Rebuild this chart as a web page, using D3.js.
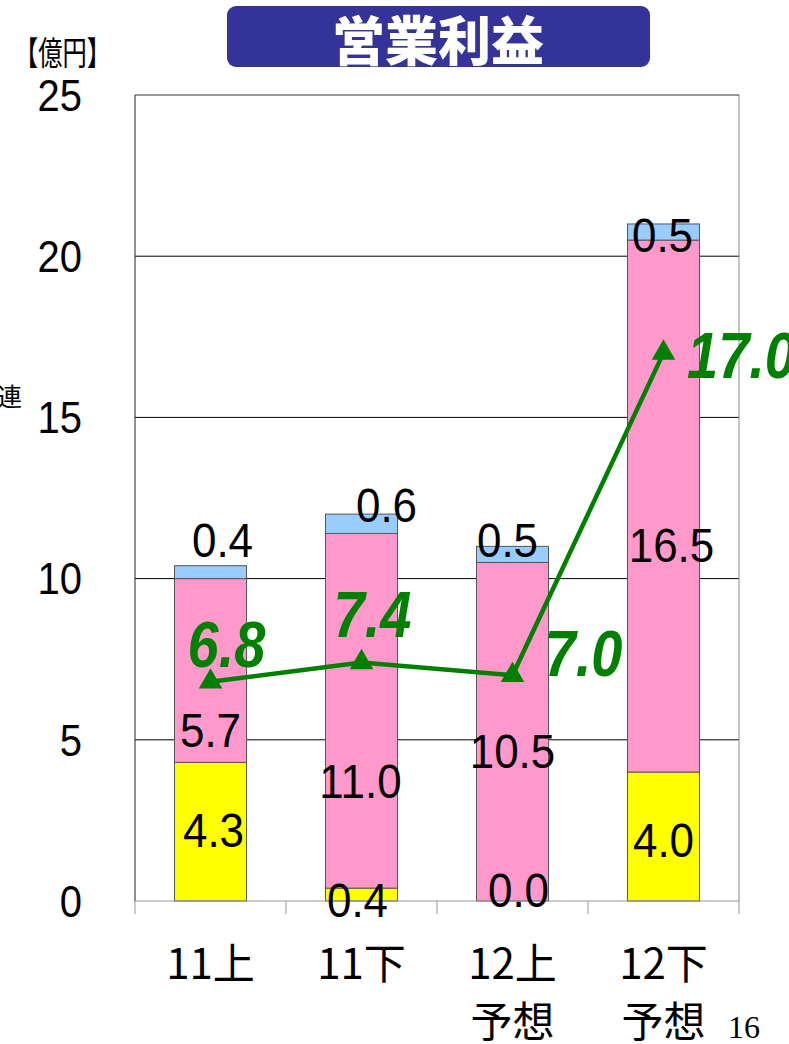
<!DOCTYPE html>
<html>
<head>
<meta charset="utf-8">
<script src="https://cdn.jsdelivr.net/npm/d3@7"></script>
<style>
  body { margin: 0; background: #fff; }
  svg { display: block; }
</style>
</head>
<body>
<script>
// values (億円)
var categories = [["11上"], ["11下"], ["12上", "予想"], ["12下", "予想"]];
var yellowVals = [4.3, 0.4, 0.0, 4.0];
var pinkVals = [5.7, 11.0, 10.5, 16.5];
var blueVals = [0.4, 0.6, 0.5, 0.5];
var lineVals = [6.8, 7.4, 7.0, 17.0];
var yTicks = [0, 5, 10, 15, 20, 25];

// label nudges in px [dx, dy] from the segment centre (the source moved them by hand)
var yellowNudge = [[3, -2], [-4, 5], [6, -11], [0, 3]];
var pinkNudge = [[0, 59], [-1, 70], [0, 19], [8, 38]];
var blueNudge = [[12, -33], [25, -19], [-5, -15], [-1, 2]];
var lineNudge = [[16, -38], [11, -49], [71, -23], [78, 2]];

var settings = {
  width: 789,
  height: 1044,
  left: 135,
  right: 739,
  top: 95,
  bottom: 901
};

var svg = d3.select('body').append('svg')
  .attr('width', settings.width)
  .attr('height', settings.height);

var x = d3.scaleBand()
  .domain(d3.range(categories.length))
  .range([settings.left, settings.right])
  .paddingInner(0.523)
  .paddingOuter(0.2615);

var y = d3.scaleLinear()
  .domain([0, 25])
  .range([settings.bottom, settings.top]);

var cx = function(i){ return x(i) + x.bandwidth()/2; };

// title box
svg.append('rect')
  .attr('x', 227).attr('y', 6)
  .attr('width', 423).attr('height', 61)
  .attr('rx', 9)
  .attr('fill', '#333399');
svg.append('text')
  .attr('x', 438).attr('y', 38)
  .attr('text-anchor', 'middle')
  .attr('dominant-baseline', 'central')
  .attr('font-family', '"Noto Sans CJK JP"')
  .attr('font-weight', 900)
  .attr('font-size', 53)
  .attr('fill', '#fff')
  .text('営業利益');

svg.append('text')
  .attr('x', 14).attr('y', 51)
  .attr('dominant-baseline', 'central')
  .attr('font-family', '"Noto Sans CJK JP"')
  .attr('font-size', 33)
  .attr('textLength', 97)
  .attr('lengthAdjust', 'spacingAndGlyphs')
  .text('【億円】');

svg.append('text')
  .attr('x', -3).attr('y', 395)
  .attr('dominant-baseline', 'central')
  .attr('font-family', '"Noto Sans CJK JP"')
  .attr('font-size', 25)
  .text('連');

// gridlines
svg.selectAll('.grid').data(yTicks.filter(function(t){ return t > 0 && t < 25; }))
  .enter().append('line')
    .attr('class', 'grid')
    .attr('x1', settings.left).attr('x2', settings.right)
    .attr('y1', function(d){ return y(d); })
    .attr('y2', function(d){ return y(d); })
    .attr('stroke', '#000')
    .attr('stroke-width', 1);

// plot frame
svg.append('line')
  .attr('x1', settings.right).attr('x2', settings.right)
  .attr('y1', settings.top).attr('y2', settings.bottom)
  .attr('stroke', '#888');
svg.append('line')
  .attr('x1', settings.left).attr('x2', settings.right)
  .attr('y1', settings.top).attr('y2', settings.top)
  .attr('stroke', '#333');
svg.append('line')
  .attr('x1', settings.left).attr('x2', settings.left)
  .attr('y1', settings.top).attr('y2', settings.bottom)
  .attr('stroke', '#222');

// stacked bars
var table = categories.map(function(c, i){
  return { i: i, yellow: yellowVals[i], pink: pinkVals[i], blue: blueVals[i] };
});
var keys = ['yellow', 'pink', 'blue'];
var colors = { yellow: '#ffff00', pink: '#ff99cc', blue: '#99ccff' };
var nudges = { yellow: yellowNudge, pink: pinkNudge, blue: blueNudge };
var stacked = d3.stack().keys(keys)(table);

svg.selectAll('.layer').data(stacked)
  .enter().append('g')
    .attr('class', 'layer')
    .attr('fill', function(s){ return colors[s.key]; })
  .selectAll('rect').data(function(s){ return s; })
  .enter().append('rect')
    .attr('x', function(d){ return x(d.data.i); })
    .attr('y', function(d){ return y(d[1]); })
    .attr('width', x.bandwidth())
    .attr('height', function(d){ return y(d[0]) - y(d[1]); })
    .attr('stroke', '#555')
    .attr('stroke-width', 1);

// bottom axis with gray ticks between categories
svg.append('line')
  .attr('x1', settings.left).attr('x2', settings.right)
  .attr('y1', settings.bottom).attr('y2', settings.bottom)
  .attr('stroke', '#999');
svg.selectAll('.xtick').data(d3.range(categories.length + 1))
  .enter().append('line')
    .attr('class', 'xtick')
    .attr('x1', function(i){ return settings.left + i * x.step(); })
    .attr('x2', function(i){ return settings.left + i * x.step(); })
    .attr('y1', settings.bottom).attr('y2', settings.bottom + 13)
    .attr('stroke', '#999');

// number drawing with slightly tall digits, like the source font
var drawNum = function(sel, px, py, str, fs, k, opts){
  opts = opts || {};
  var half = 0.716 * fs * k / 2;
  sel.append('text')
    .attr('transform', 'translate(' + px + ',' + (py + half) + ') scale(1,' + k + ')')
    .attr('text-anchor', opts.anchor || 'middle')
    .attr('font-family', '"Liberation Sans", Arial, sans-serif')
    .attr('font-size', fs)
    .attr('font-weight', opts.weight || 'normal')
    .attr('font-style', opts.style || 'normal')
    .attr('fill', opts.fill || '#000')
    .text(str);
};

// y tick labels
yTicks.forEach(function(t){
  drawNum(svg, 82, y(t), String(t), 40, 1.1, { anchor: 'end' });
});

// segment labels
stacked.forEach(function(s){
  s.forEach(function(d, i){
    var v = d[1] - d[0];
    var n = nudges[s.key][i];
    drawNum(svg, cx(i) + n[0], (y(d[0]) + y(d[1]))/2 + n[1], v.toFixed(1), 44, 1.11);
  });
});

// green line with triangles
var line = d3.line()
  .x(function(d, i){ return cx(i); })
  .y(function(d){ return y(d); });

svg.append('path')
  .datum(lineVals)
  .attr('d', line)
  .attr('fill', 'none')
  .attr('stroke', '#008000')
  .attr('stroke-width', 4.5);

svg.selectAll('.marker').data(lineVals)
  .enter().append('path')
    .attr('class', 'marker')
    .attr('transform', function(d, i){ return 'translate(' + cx(i) + ',' + y(d) + ')'; })
    .attr('d', d3.symbol().type(d3.symbolTriangle).size(240))
    .attr('fill', '#008000');

lineVals.forEach(function(v, i){
  var n = lineNudge[i];
  drawNum(svg, cx(i) + n[0], y(v) + n[1], v.toFixed(1), 56, 1.17,
    { weight: 'bold', style: 'italic', fill: '#008000' });
});

// category labels
categories.forEach(function(c, i){
  c.forEach(function(lbl, j){
    svg.append('text')
      .attr('x', cx(i)).attr('y', 960 + j * 58)
      .attr('text-anchor', 'middle')
      .attr('dominant-baseline', 'central')
      .attr('font-family', '"Noto Sans CJK JP"')
      .attr('font-size', 42)
      .text(lbl);
  });
});

// page number
svg.append('text')
  .attr('x', 728).attr('y', 1038)
  .attr('font-family', '"Liberation Serif", serif')
  .attr('font-size', 32)
  .text('16');
</script>
</body>
</html>
